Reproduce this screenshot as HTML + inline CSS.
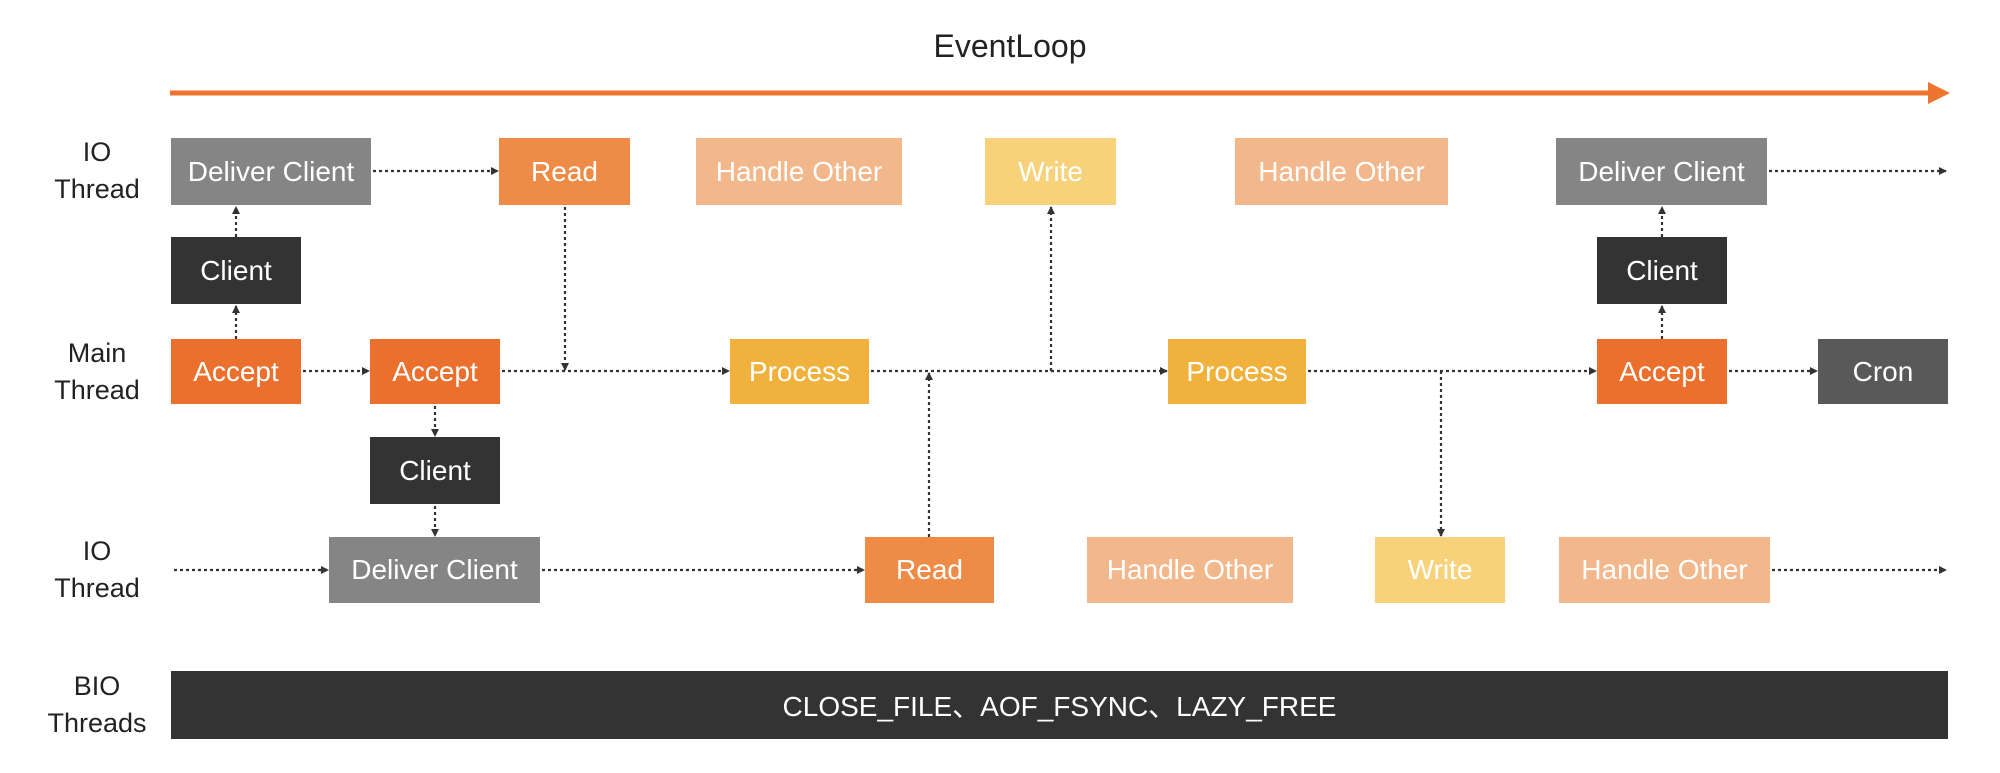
<!DOCTYPE html>
<html><head><meta charset="utf-8"><style>
body{margin:0;background:#fff;width:2000px;height:773px;overflow:hidden;position:relative;font-family:"Liberation Sans","Noto Sans CJK SC",sans-serif}
.b{position:absolute;color:#fff;font-size:28px;display:flex;align-items:center;justify-content:center;white-space:nowrap}
.l{position:absolute;width:160px;left:17px;text-align:center;font-size:27px;color:#222;line-height:37px}
svg{position:absolute;left:0;top:0}
</style></head><body>
<div style="position:absolute;left:0;width:2000px;top:28px;text-align:center;font-size:32px;color:#222;padding-left:20px;box-sizing:border-box">EventLoop</div>
<div class="l" style="top:134px">IO<br>Thread</div>
<div class="l" style="top:335px">Main<br>Thread</div>
<div class="l" style="top:533px">IO<br>Thread</div>
<div class="l" style="top:668px">BIO<br>Threads</div>

<svg width="2000" height="773">
<defs><marker id="a" markerWidth="8" markerHeight="8" refX="7" refY="4" orient="auto" markerUnits="userSpaceOnUse"><path d="M0,0L8,4L0,8z" fill="#333"/></marker></defs>
<line x1="170" y1="93" x2="1930" y2="93" stroke="#ee7530" stroke-width="5"/>
<path d="M1928,82L1950,93L1928,104z" fill="#ee7530"/>
<g stroke="#333" stroke-width="2.2" stroke-dasharray="3 3" fill="none" marker-end="url(#a)">
<line x1="373" y1="171" x2="498" y2="171"/>
<line x1="565" y1="207" x2="565" y2="370"/>
<line x1="303" y1="371" x2="369" y2="371"/>
<line x1="502" y1="371" x2="729" y2="371"/>
<line x1="871" y1="371" x2="1167" y2="371"/>
<line x1="929" y1="537" x2="929" y2="373"/>
<line x1="1051" y1="371" x2="1051" y2="207"/>
<line x1="1308" y1="371" x2="1596" y2="371"/>
<line x1="1441" y1="371" x2="1441" y2="536"/>
<line x1="1729" y1="371" x2="1817" y2="371"/>
<line x1="1769" y1="171" x2="1946" y2="171"/>
<line x1="236" y1="339" x2="236" y2="306"/>
<line x1="236" y1="237" x2="236" y2="207"/>
<line x1="435" y1="406" x2="435" y2="436"/>
<line x1="435" y1="506" x2="435" y2="536"/>
<line x1="1662" y1="339" x2="1662" y2="306"/>
<line x1="1662" y1="237" x2="1662" y2="207"/>
<line x1="174" y1="570" x2="328" y2="570"/>
<line x1="542" y1="570" x2="864" y2="570"/>
<line x1="1772" y1="570" x2="1946" y2="570"/>
</g>
</svg>

<div class="b" style="left:171px;top:138px;width:200px;height:67px;background:#858585">Deliver Client</div>
<div class="b" style="left:499px;top:138px;width:131px;height:67px;background:#ee8c47">Read</div>
<div class="b" style="left:696px;top:138px;width:206px;height:67px;background:#f3b78c">Handle Other</div>
<div class="b" style="left:985px;top:138px;width:131px;height:67px;background:#f7d27a">Write</div>
<div class="b" style="left:1235px;top:138px;width:213px;height:67px;background:#f3b78c">Handle Other</div>
<div class="b" style="left:1556px;top:138px;width:211px;height:67px;background:#858585">Deliver Client</div>

<div class="b" style="left:171px;top:237px;width:130px;height:67px;background:#333">Client</div>
<div class="b" style="left:1597px;top:237px;width:130px;height:67px;background:#333">Client</div>

<div class="b" style="left:171px;top:339px;width:130px;height:65px;background:#eb702e">Accept</div>
<div class="b" style="left:370px;top:339px;width:130px;height:65px;background:#eb702e">Accept</div>
<div class="b" style="left:730px;top:339px;width:139px;height:65px;background:#f0b23d">Process</div>
<div class="b" style="left:1168px;top:339px;width:138px;height:65px;background:#f0b23d">Process</div>
<div class="b" style="left:1597px;top:339px;width:130px;height:65px;background:#eb702e">Accept</div>
<div class="b" style="left:1818px;top:339px;width:130px;height:65px;background:#595959">Cron</div>

<div class="b" style="left:370px;top:437px;width:130px;height:67px;background:#333">Client</div>

<div class="b" style="left:329px;top:537px;width:211px;height:66px;background:#858585">Deliver Client</div>
<div class="b" style="left:865px;top:537px;width:129px;height:66px;background:#ee8c47">Read</div>
<div class="b" style="left:1087px;top:537px;width:206px;height:66px;background:#f3b78c">Handle Other</div>
<div class="b" style="left:1375px;top:537px;width:130px;height:66px;background:#f7d27a">Write</div>
<div class="b" style="left:1559px;top:537px;width:211px;height:66px;background:#f3b78c">Handle Other</div>

<div class="b" style="left:171px;top:671px;width:1777px;height:68px;background:#333">CLOSE_FILE、AOF_FSYNC、LAZY_FREE</div>
</body></html>
